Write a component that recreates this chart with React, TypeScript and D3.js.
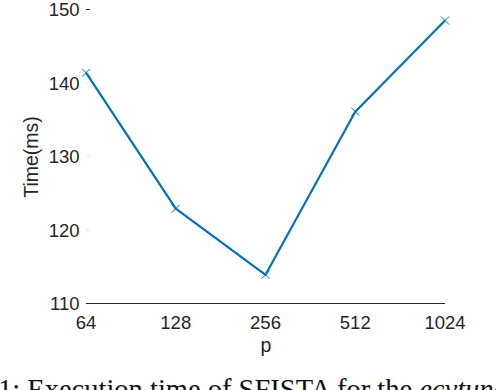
import { useEffect, useRef } from 'react';
import * as d3 from 'd3';

const categories = ['64', '128', '256', '512', '1024'];
const times = [141.4, 122.9, 113.9, 136.1, 148.5];
const yTicks = [110, 120, 130, 140, 150];

export default function App() {
  const svgRef = useRef<SVGSVGElement | null>(null);
  const width = 496;
  const height = 390;

  useEffect(() => {
    if (!svgRef.current) return;
    const svg = d3.select(svgRef.current);
    svg.selectAll('*').remove();

    const x = d3.scalePoint<string>().domain(categories).range([86, 445]);
    const y = d3.scaleLinear().domain([110, 150]).range([303.5, 9.5]);
    const font = '"Liberation Sans", Arial, sans-serif';
    const ink = '#262626';

    // x axis line (only the bottom one is drawn)
    svg.append('line')
      .attr('x1', x('64')!).attr('x2', x('1024')!)
      .attr('y1', y(110)).attr('y2', y(110))
      .attr('stroke', ink).attr('stroke-width', 1);

    // y ticks, inward
    svg.selectAll('.ytick')
      .data(yTicks.slice(1))
      .join('line')
      .attr('x1', 86).attr('x2', 90)
      .attr('y1', (d) => y(d)).attr('y2', (d) => y(d))
      .attr('stroke', (d) => (d === 150 ? ink : '#e4e4e4'))
      .attr('stroke-width', 1);

    svg.selectAll('.ylab')
      .data(yTicks)
      .join('text')
      .attr('x', 79.5)
      .attr('y', (d) => y(d) + 6.8)
      .attr('text-anchor', 'end')
      .attr('font-family', font)
      .attr('font-size', 18.5)
      .attr('fill', ink)
      .text((d) => d);

    svg.selectAll('.xlab')
      .data(categories)
      .join('text')
      .attr('x', (d) => x(d)!)
      .attr('y', 328.5)
      .attr('text-anchor', 'middle')
      .attr('font-family', font)
      .attr('font-size', 18.5)
      .attr('fill', ink)
      .text((d) => d);

    svg.append('text')
      .attr('x', 266).attr('y', 352)
      .attr('text-anchor', 'middle')
      .attr('font-family', font).attr('font-size', 19.5).attr('fill', ink)
      .text('p');

    svg.append('text')
      .attr('transform', 'translate(37.5,157) rotate(-90)')
      .attr('text-anchor', 'middle')
      .attr('font-family', font).attr('font-size', 19.5).attr('fill', ink)
      .text('Time(ms)');

    const pts = categories.map((c, i) => ({ c, v: times[i] }));
    const line = d3.line<{ c: string; v: number }>().x((d) => x(d.c)!).y((d) => y(d.v));

    svg.append('path')
      .datum(pts)
      .attr('fill', 'none')
      .attr('stroke', '#0072BD')
      .attr('stroke-width', 2.2)
      .attr('stroke-linejoin', 'round')
      .attr('d', line);

    // x markers
    const m = 4;
    svg.selectAll('.mark')
      .data(pts)
      .join('path')
      .attr('d', (d) => {
        const cx = x(d.c)!, cy = y(d.v);
        return `M${cx - m},${cy - m}L${cx + m},${cy + m}M${cx - m},${cy + m}L${cx + m},${cy - m}`;
      })
      .attr('stroke', '#0072BD')
      .attr('stroke-width', 1)
      .attr('fill', 'none');

    // caption (cut off by the frame, as in the source figure)
    const cap = svg.append('text')
      .attr('x', -2).attr('y', 399)
      .attr('font-family', '"Liberation Serif", "Times New Roman", serif')
      .attr('font-size', 28.5)
      .attr('fill', '#111');
    cap.append('tspan').text('1: Execution time of SFISTA for the ');
    cap.append('tspan').attr('font-style', 'italic').text('ecytune');
  }, []);

  return (
    <svg
      ref={svgRef}
      width={width}
      height={height}
      style={{ position: 'absolute', left: 0, top: 0, display: 'block', background: '#fff' }}
    />
  );
}
